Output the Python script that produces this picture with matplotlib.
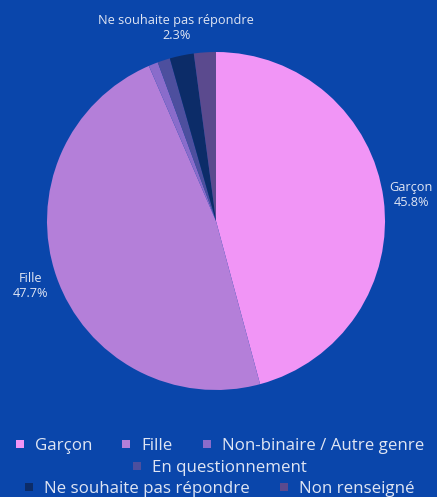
import matplotlib.pyplot as plt
from matplotlib.lines import Line2D
import numpy as np

plt.rcParams['font.family'] = ['Open Sans', 'DejaVu Sans']

# data
categories = ['Garçon', 'Fille', 'Non-binaire / Autre genre', 'En questionnement',
              'Ne souhaite pas répondre', 'Non renseigné']
values = [45.8, 47.7, 0.9, 1.2, 2.3, 2.1]
shown = ['Garçon', 'Fille', 'Ne souhaite pas répondre']
colors = ['#f195f6', '#b47fd9', '#8a6ccb', '#4d4f9e', '#0c2c68', '#5b4a8e']

bg = '#0a46ab'
txt = '#dfe5f3'

fig = plt.figure(figsize=(4.37, 4.97), dpi=100, facecolor=bg)
ax = fig.add_axes([47 / 437, 107 / 497, 338 / 437, 338 / 497])
ax.set_facecolor(bg)

wedges, _ = ax.pie(values, colors=colors, startangle=90, counterclock=False,
                   wedgeprops=dict(linewidth=0))
ax.set_xlim(-1, 1)
ax.set_ylim(-1, 1)
ax.set_aspect('equal')
ax.axis('off')

# labels outside the pie
for w, name, v in zip(wedges, categories, values):
    if name not in shown:
        continue
    ang = np.deg2rad((w.theta1 + w.theta2) / 2)
    ax.text(1.165 * np.cos(ang), 1.165 * np.sin(ang), f'{name}\n{v}%',
            ha='center', va='center', color=txt, fontsize=9.2,
            linespacing=1.25, clip_on=False)

# legend, wrapped on three rows
rows = [[0, 1, 2], [3], [4, 5]]
ys = [1 - 446 / 497, 1 - 468 / 497, 1 - 489 / 497]
for r, y in zip(rows, ys):
    handles = [Line2D([], [], marker='s', linestyle='', markersize=6,
                      markerfacecolor=colors[i], markeredgewidth=0) for i in r]
    leg = fig.legend(handles, [categories[i] for i in r], loc='center',
                     bbox_to_anchor=(0.5, y), ncol=len(r), frameon=False,
                     fontsize=12.2, labelcolor=txt, handlelength=0.8,
                     handletextpad=0.5, columnspacing=1.6, borderpad=0)

fig.savefig('out.png', dpi=100, facecolor=bg)
